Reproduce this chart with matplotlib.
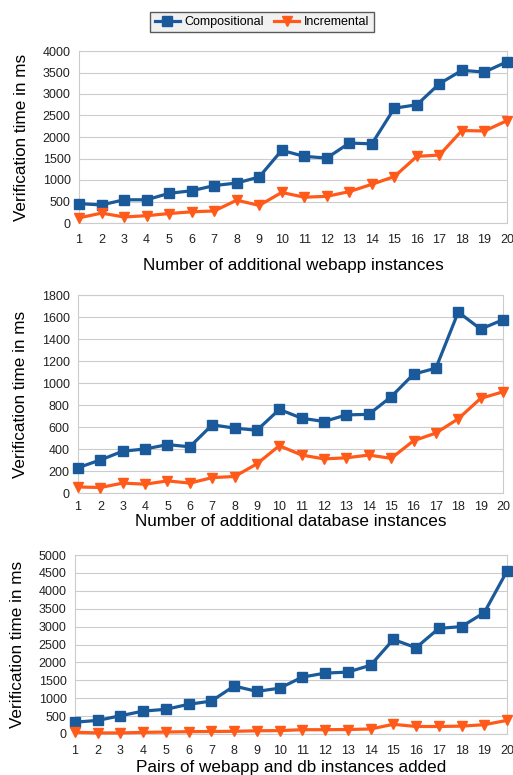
import matplotlib.pyplot as plt

plt.rcParams['font.family'] = ['Liberation Sans', 'DejaVu Sans']

x = list(range(1, 21))

# Chart 1: additional webapp instances
webapp_comp = [450, 420, 540, 540, 690, 750, 870, 930, 1070, 1690,
               1550, 1510, 1860, 1840, 2670, 2750, 3240, 3550, 3510, 3750]
webapp_inc = [120, 230, 140, 170, 220, 260, 280, 530, 410, 710,
              600, 620, 730, 900, 1080, 1550, 1580, 2150, 2140, 2380]

# Chart 2: additional database instances
db_comp = [230, 300, 380, 400, 440, 420, 620, 590, 570, 760,
           680, 650, 710, 715, 875, 1080, 1135, 1645, 1490, 1575]
db_inc = [55, 50, 90, 80, 110, 90, 140, 150, 265, 430,
          345, 310, 320, 345, 315, 475, 545, 675, 860, 920]

# Chart 3: pairs of webapp and db instances
pair_comp = [330, 380, 510, 640, 690, 830, 920, 1340, 1190, 1280,
             1590, 1700, 1730, 1920, 2640, 2410, 2950, 3000, 3390, 4550]
pair_inc = [50, 30, 30, 45, 55, 65, 70, 75, 90, 95,
            120, 120, 125, 140, 270, 210, 210, 220, 260, 380]

xlabels = ["Number of additional webapp instances",
           "Number of additional database instances",
           "Pairs of webapp and db instances added"]

BLUE = "#1a5a9a"
ORANGE = "#ff5a1a"
W, H = 513, 775

fig = plt.figure(figsize=(W / 100, H / 100), dpi=100)

# axes boxes in pixels: left, top, right, bottom
boxes = [(79, 51, 507, 223), (78, 295, 503, 493), (75, 555, 507, 734)]
ylims = [(0, 4000, 500), (0, 1800, 200), (0, 5000, 500)]
xlab_top = [258, 514, 760]   # top of x-axis title, px
xpads = [8, 6, 8]
data = [(webapp_comp, webapp_inc), (db_comp, db_inc), (pair_comp, pair_inc)]

for i, (l, t, r, b) in enumerate(boxes):
    ax = fig.add_axes([l / W, 1 - b / H, (r - l) / W, (b - t) / H])
    comp, inc = data[i]
    l1, = ax.plot(x, comp, color=BLUE, lw=2.3, marker="s", ms=7, clip_on=False, zorder=3)
    l2, = ax.plot(x, inc, color=ORANGE, lw=2.3, marker="v", ms=7, clip_on=False, zorder=3)
    lo, hi, step = ylims[i]
    ax.set_ylim(lo, hi)
    ax.set_yticks(range(lo, hi + 1, step))
    ax.set_xlim(1, 20)
    ax.set_xticks(x)
    ax.tick_params(length=0, labelsize=9, colors="#222222", pad=6)
    ax.tick_params(axis="x", pad=xpads[i])
    ax.grid(axis="y", color="#cccccc", lw=0.8)
    ax.set_axisbelow(True)
    for s in ax.spines.values():
        s.set_color("#cccccc")
    ax.set_ylabel("Verification time in ms", fontsize=12.3, labelpad=10)
    fig.text(0.5 * (l + r) / W, 1 - xlab_top[i] / H, xlabels[i], fontsize=12.3,
             ha="center", va="top")

fig.legend([l1, l2], ["Compositional", "Incremental"], loc="center",
           bbox_to_anchor=(262 / W, 1 - 22 / H), ncol=2, fontsize=9,
           frameon=True, fancybox=False, edgecolor="#333333", facecolor="#eeeeee",
           handlelength=2.0, borderpad=0.35, columnspacing=0.8, handletextpad=0.4)

fig.savefig("out.png", dpi=100)
